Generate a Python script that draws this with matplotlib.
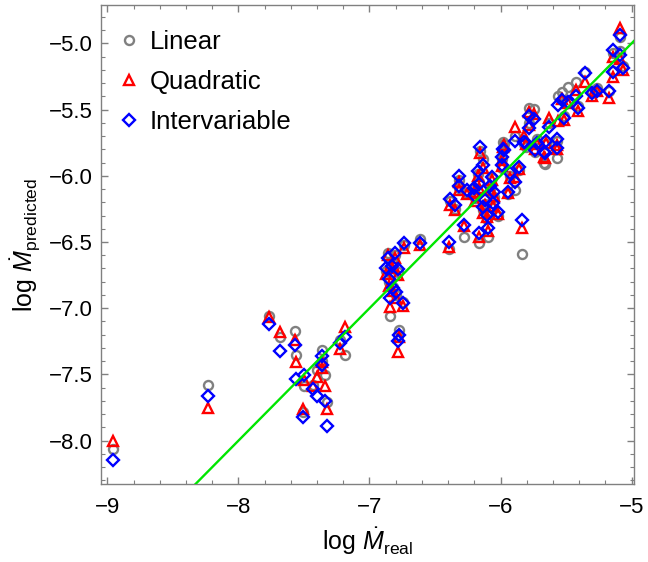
import matplotlib
matplotlib.use("Agg")
import matplotlib.pyplot as plt
import numpy as np

# log Mdot real, and predictions of the three models
x_real = [-8.96, -8.23,
          -7.77, -7.683, -7.568, -7.56, -7.50, -7.505, -7.433, -7.398, -7.34, -7.327,
          -7.365, -7.36, -7.225, -7.187,
          -6.735, -6.615, -6.39, -6.805, -6.874, -6.826, -6.78, -6.849, -6.818, -6.844,
          -6.747, -6.773, -6.78, -6.86, -6.80,
          -6.386, -6.315, -6.315, -6.259, -6.279, -6.195, -6.162, -6.157, -6.17, -6.132,
          -6.119, -6.132, -6.106, -6.094, -6.056, -6.018, -6.068, -6.08, -5.99, -5.98,
          -5.99, -5.941, -5.89, -5.857, -5.89, -5.834, -5.78, -5.745, -5.806, -5.738,
          -5.661, -5.654, -5.572, -5.567, -5.56, -5.516, -5.483, -5.407, -5.534, -5.425,
          -5.356, -5.305, -5.267, -5.171, -5.14, -5.14, -5.089, -5.089, -5.069, -5.63,
          -5.669, -5.725, -5.822, -5.974, -6.2, -6.05, -5.93, -5.78, -6.35, -6.162]

y_linear = [-8.06, -7.58,
            -7.056, -7.22, -7.171, -7.352, -7.587, -7.78, -7.58, -7.466, -7.503, -7.705,
            -7.315, -7.40, -7.239, -7.352,
            -6.52, -6.477, -6.552, -6.60, -6.72, -6.65, -6.73, -6.80, -6.837, -7.058,
            -6.95, -7.164, -7.20, -6.58, -6.90,
            -6.19, -6.03, -6.09, -6.13, -6.46, -6.17, -6.05, -5.81, -5.99, -5.876,
            -6.21, -6.26, -6.33, -6.46, -6.24, -6.30, -6.02, -6.10, -5.94, -5.743,
            -5.87, -6.14, -6.107, -5.96, -5.70, -6.59, -5.60, -5.498, -5.78, -5.82,
            -5.911, -5.76, -5.868, -5.74, -5.40, -5.55, -5.327, -5.47, -5.365, -5.29,
            -5.214, -5.36, -5.34, -5.36, -5.21, -5.07, -4.95, -5.06, -5.17, -5.60,
            -5.906, -5.72, -5.76, -5.76, -6.10, -6.16, -6.00, -5.49, -6.25, -6.505]

y_quadratic = [-8.00, -7.755,
               -7.063, -7.18, -7.239, -7.403, -7.54, -7.762, -7.59, -7.516, -7.587, -7.762,
               -7.408, -7.45, -7.31, -7.139,
               -6.547, -6.52, -6.535, -6.62, -6.741, -6.70, -6.75, -6.83, -6.87, -6.988,
               -6.983, -7.22, -7.33, -6.60, -6.92,
               -6.22, -6.045, -6.11, -6.14, -6.38, -6.19, -6.09, -5.826, -6.00, -5.94,
               -6.22, -6.28, -6.31, -6.42, -6.23, -6.29, -6.03, -6.11, -5.93, -5.78,
               -5.88, -6.13, -6.007, -5.95, -5.634, -6.391, -5.62, -5.53, -5.76, -5.80,
               -5.868, -5.75, -5.80, -5.77, -5.59, -5.58, -5.45, -5.51, -5.42, -5.352,
               -5.29, -5.40, -5.36, -5.415, -5.257, -5.101, -4.887, -5.121, -5.20, -5.566,
               -5.856, -5.76, -5.70, -5.77, -6.12, -6.15, -6.02, -5.52, -6.26, -6.46]

y_intervariable = [-8.145, -7.66,
                   -7.12, -7.32, -7.279, -7.536, -7.506, -7.818, -7.611, -7.662, -7.697, -7.888,
                   -7.36, -7.43, -7.26, -7.219,
                   -6.505, -6.505, -6.502, -6.58, -6.698, -6.678, -6.706, -6.781, -6.849, -6.925,
                   -6.962, -7.20, -7.245, -6.62, -6.88,
                   -6.177, -6.002, -6.077, -6.107, -6.371, -6.152, -6.062, -5.78, -5.961, -5.918,
                   -6.183, -6.233, -6.296, -6.396, -6.208, -6.271, -6.007, -6.08, -5.918, -5.80,
                   -5.856, -6.119, -6.05, -5.931, -5.735, -6.334, -5.641, -5.574, -5.755, -5.805,
                   -5.83, -5.735, -5.79, -5.725, -5.466, -5.566, -5.44, -5.491, -5.43, -5.40,
                   -5.222, -5.378, -5.357, -5.357, -5.214, -5.05, -4.937, -5.088, -5.189, -5.629,
                   -5.818, -5.755, -5.743, -5.805, -6.09, -6.12, -5.98, -5.55, -6.22, -6.434]

plt.rcParams["font.family"] = ["Liberation Sans", "DejaVu Sans"]
plt.rcParams["mathtext.fontset"] = "custom"
plt.rcParams["mathtext.rm"] = "Liberation Sans"
plt.rcParams["mathtext.it"] = "Liberation Sans:italic"

FRAME = "#808080"

fig = plt.figure(figsize=(6.48, 5.62), dpi=100)
ax = fig.add_axes([0.1563, 0.1383, 0.9784 - 0.1563, 0.9906 - 0.1383])

ax.plot(x_real, y_linear, ls="none", marker="o", ms=6.5, mfc="none",
        mec="#808080", mew=1.7, label="Linear")
ax.plot(x_real, y_quadratic, ls="none", marker="^", ms=7.5, mfc="none",
        mec="red", mew=1.7, label="Quadratic")
ax.plot(x_real, y_intervariable, ls="none", marker="D", ms=6, mfc="none",
        mec="blue", mew=1.7, label="Intervariable")

lim = np.array([-9.2, -4.8])
ax.plot(lim, lim, color="#00e600", lw=1.7, zorder=5)

ax.set_xlim(-9.046, -4.982)
ax.set_ylim(-8.329, -4.713)

ax.set_xticks([-9, -8, -7, -6, -5])
ax.set_yticks([-8.0, -7.5, -7.0, -6.5, -6.0, -5.5, -5.0])
ax.set_yticklabels(["\u22128.0", "\u22127.5", "\u22127.0", "\u22126.5",
                    "\u22126.0", "\u22125.5", "\u22125.0"])
ax.set_xticklabels(["\u22129", "\u22128", "\u22127", "\u22126", "\u22125"])
ax.set_xticks(np.arange(-9.0, -4.9, 0.2), minor=True)
ax.set_yticks(np.arange(-8.3, -4.7, 0.1), minor=True)

ax.tick_params(which="both", direction="in", top=True, right=True, color=FRAME,
               labelsize=16)
ax.tick_params(axis="y", pad=6)
ax.tick_params(axis="x", pad=9)
ax.tick_params(which="major", length=5, width=1)
ax.tick_params(which="minor", length=3, width=0.8)
for s in ax.spines.values():
    s.set_color(FRAME)
    s.set_linewidth(1)

ax.set_xlabel(r"log $\dot{M}_{\mathrm{real}}$", fontsize=18, labelpad=5)
ax.set_ylabel(r"log $\dot{M}_{\mathrm{predicted}}$", fontsize=18, labelpad=5)

ax.legend(loc="upper left", bbox_to_anchor=(0.0285, 0.948), frameon=False,
          fontsize=18.5, labelspacing=0.62, handletextpad=0.3, handlelength=1.0,
          borderaxespad=0, borderpad=0)

fig.savefig("out.png", dpi=100)
